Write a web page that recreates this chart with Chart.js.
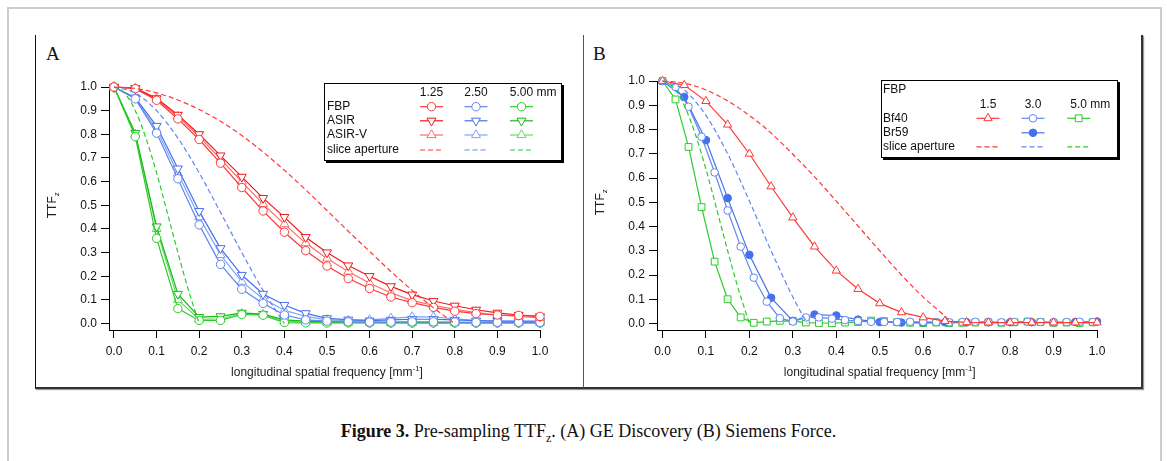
<!DOCTYPE html>
<html lang="en">
<head>
<meta charset="utf-8">
<title>Pre-sampling TTFz</title>
<script src="https://cdn.jsdelivr.net/npm/chart.js"></script>
<style>
    body {
        margin: 0;
        background: #fff;
        width: 1167px;
        height: 461px;
        position: relative;
        overflow: hidden;
        font-family: 'Liberation Sans', Arial, sans-serif;
    }
    .frame {
        position: absolute;
        left: 7px; top: 7px;
        width: 1151px; height: 480px;
        border: 2px solid #cdcdcd;
    }
    .box {
        position: absolute;
        left: 35px; top: 35px;
        width: 1105px; height: 352px;
        border-left: 1px solid #111;
        border-right: 2px solid #333;
        border-bottom: 2px solid #333;
        box-shadow: 1px 1px 1px #999;
    }
    .divider {
        position: absolute;
        left: 583px; top: 35px;
        width: 1px; height: 353px;
        background: #555;
    }
    .letter {
        position: absolute;
        top: 44px;
        font: 19px/19px 'Liberation Serif', serif;
        color: #111;
    }
    canvas { position: absolute; }
    .caption {
        position: absolute;
        left: 35px; width: 1107px; top: 422px;
        text-align: center;
        font: 18px/18px 'Liberation Serif', serif;
        color: #111;
    }
</style>
</head>
<body>
<div class="frame"></div>
<div class="box"></div>
<div class="divider"></div>
<div class="letter" style="left:46px">A</div>
<div class="letter" style="left:593px">B</div>
<canvas id="chartA" width="546" height="352" style="left:36px; top:36px"></canvas>
<canvas id="chartB" width="557" height="352" style="left:584px; top:36px"></canvas>
<div class="caption"><b>Figure 3.</b> Pre-sampling TTF<sub style="font-size:12px">z</sub>. (A) GE Discovery (B) Siemens Force.</div>

<script>
// ---- axis ticks ----
const xTicks = [0, 0.1, 0.2, 0.3, 0.4, 0.5, 0.6, 0.7, 0.8, 0.9, 1.0];
const yTicks = [0, 0.1, 0.2, 0.3, 0.4, 0.5, 0.6, 0.7, 0.8, 0.9, 1.0];

// ---- panel A: GE Discovery ----
const freqA = [0, 0.05, 0.1, 0.15, 0.2, 0.25, 0.3, 0.35, 0.4, 0.45, 0.5, 0.55, 0.6, 0.65, 0.7, 0.75, 0.8, 0.85, 0.9, 0.95, 1.0];
const fbpA125   = [1.0, 0.993, 0.944, 0.865, 0.778, 0.678, 0.575, 0.476, 0.386, 0.308, 0.243, 0.19, 0.148, 0.112, 0.088, 0.068, 0.052, 0.042, 0.036, 0.034, 0.030];
const asirA125  = [1.0, 0.995, 0.952, 0.882, 0.800, 0.710, 0.620, 0.530, 0.450, 0.365, 0.300, 0.245, 0.200, 0.157, 0.122, 0.095, 0.075, 0.058, 0.045, 0.036, 0.030];
const asirvA125 = [1.0, 0.994, 0.948, 0.875, 0.790, 0.695, 0.600, 0.505, 0.420, 0.340, 0.275, 0.220, 0.170, 0.130, 0.097, 0.077, 0.060, 0.046, 0.036, 0.030, 0.024];
const fbpA250   = [1.0, 0.950, 0.805, 0.612, 0.417, 0.250, 0.145, 0.085, 0.036, 0.015, 0.010, 0.007, 0.006, 0.006, 0.007, 0.007, 0.006, 0.005, 0.005, 0.005, 0.005];
const asirA250  = [1.0, 0.955, 0.835, 0.655, 0.475, 0.318, 0.205, 0.125, 0.078, 0.043, 0.022, 0.016, 0.012, 0.015, 0.018, 0.018, 0.015, 0.012, 0.010, 0.010, 0.010];
const asirvA250 = [1.0, 0.952, 0.820, 0.635, 0.450, 0.290, 0.177, 0.105, 0.056, 0.030, 0.015, 0.012, 0.015, 0.022, 0.028, 0.028, 0.020, 0.012, 0.010, 0.008, 0.008];
const fbpA500   = [1.0, 0.790, 0.360, 0.063, 0.013, 0.013, 0.038, 0.035, 0.004, 0.003, 0.002, 0.003, 0.002, 0.002, 0.002, 0.002, 0.002, 0.002, 0.002, 0.002, 0.002];
const asirA500  = [1.0, 0.805, 0.410, 0.125, 0.027, 0.030, 0.045, 0.040, 0.015, 0.010, 0.007, 0.006, 0.006, 0.005, 0.005, 0.004, 0.004, 0.004, 0.004, 0.004, 0.004];
const asirvA500 = [1.0, 0.800, 0.400, 0.100, 0.018, 0.020, 0.042, 0.038, 0.010, 0.006, 0.004, 0.004, 0.004, 0.003, 0.003, 0.003, 0.003, 0.003, 0.003, 0.003, 0.003];
// slice aperture curves
const apFreqA125 = [0, 0.05, 0.1, 0.15, 0.2, 0.25, 0.3, 0.35, 0.4, 0.45, 0.5, 0.55, 0.6, 0.65, 0.7, 0.75, 0.8];
const apA125     = [1.0, 0.994, 0.975, 0.945, 0.905, 0.855, 0.795, 0.725, 0.648, 0.565, 0.478, 0.390, 0.305, 0.220, 0.140, 0.066, 0.0];
const apFreqA250 = [0, 0.05, 0.1, 0.15, 0.2, 0.25, 0.3, 0.35, 0.4];
const apA250     = [1.0, 0.974, 0.900, 0.784, 0.637, 0.470, 0.300, 0.140, 0.0];
const apFreqA500 = [0, 0.025, 0.05, 0.075, 0.1, 0.125, 0.15, 0.175, 0.2];
const apA500     = [1.0, 0.974, 0.900, 0.784, 0.637, 0.470, 0.300, 0.140, 0.0];

// ---- panel B: Siemens Force ----
const freqB05 = [0, 0.05, 0.1, 0.15, 0.2, 0.25, 0.3, 0.35, 0.4, 0.45, 0.5, 0.55, 0.6, 0.65, 0.7, 0.75, 0.8, 0.85, 0.9, 0.95, 1.0];
const freqB03 = [0, 0.03, 0.06, 0.09, 0.12, 0.15, 0.18, 0.21, 0.24, 0.27, 0.3, 0.33, 0.36, 0.39, 0.42, 0.45, 0.48, 0.51, 0.54, 0.57, 0.6, 0.63, 0.66, 0.69, 0.72, 0.75, 0.78, 0.81, 0.84, 0.87, 0.9, 0.93, 0.96, 0.99];
const bf40B15 = [1.0, 0.983, 0.917, 0.820, 0.700, 0.565, 0.437, 0.317, 0.218, 0.142, 0.083, 0.046, 0.025, 0.010, 0.005, 0.004, 0.004, 0.004, 0.004, 0.004, 0.004];
const bf40B30 = [1.0, 0.975, 0.894, 0.770, 0.623, 0.466, 0.317, 0.189, 0.090, 0.022, 0.008, 0.025, 0.025, 0.020, 0.014, 0.010, 0.007, 0.006, 0.006, 0.007, 0.007, 0.006, 0.005, 0.006, 0.007, 0.006, 0.005, 0.006, 0.007, 0.006, 0.005, 0.006, 0.007, 0.006];
const br59B30 = [1.0, 0.934, 0.756, 0.517, 0.283, 0.106, 0.011, 0.037, 0.033, 0.016, 0.006, 0.004, 0.004, 0.005, 0.005, 0.005, 0.005, 0.005, 0.005, 0.006, 0.008];
const bf40B50 = [1.0, 0.924, 0.728, 0.480, 0.255, 0.100, 0.025, 0.003, 0.008, 0.011, 0.010, 0.004, 0.002, 0.001, 0.004, 0.006, 0.012, 0.010, 0.005, 0.003, 0.002, 0.004, 0.002, 0.003, 0.004, 0.005, 0.003, 0.005, 0.008, 0.006, 0.003, 0.004, 0.002, 0.005];
const apFreqB15 = [0, 0.05, 0.1, 0.15, 0.2, 0.25, 0.3, 0.35, 0.4, 0.45, 0.5, 0.55, 0.6, 0.65, 0.667];
const apB15     = [1.0, 0.991, 0.963, 0.918, 0.858, 0.785, 0.698, 0.605, 0.505, 0.402, 0.300, 0.200, 0.109, 0.030, 0.0];
const apFreqB30 = [0, 0.05, 0.1, 0.15, 0.2, 0.25, 0.3, 0.333];
const apB30     = [1.0, 0.963, 0.858, 0.700, 0.505, 0.300, 0.109, 0.0];
const apFreqB50 = [0, 0.025, 0.05, 0.075, 0.1, 0.125, 0.15, 0.175, 0.2];
const apB50     = [1.0, 0.974, 0.900, 0.784, 0.637, 0.470, 0.300, 0.140, 0.0];

// colours
const RED = 'rgb(255,55,55)', RED_D = 'rgb(240,25,25)', RED_L = 'rgb(255,105,105)';
const BLUE = 'rgb(95,135,242)', BLUE_D = 'rgb(70,112,236)', BLUE_L = 'rgb(128,162,248)';
const GREEN = 'rgb(40,205,40)', GREEN_D = 'rgb(25,185,25)', GREEN_L = 'rgb(100,220,100)';
const FONT = "'Liberation Sans', Arial, sans-serif";

const pts = (xs, ys) => xs.map((x, i) => ({ x: x, y: ys[i] }));

function marks(xs, ys, color, style, r, extra) {
    return Object.assign({
        data: pts(xs, ys),
        borderColor: color,
        borderWidth: 1.2,
        pointStyle: style,
        pointRadius: r,
        pointBorderWidth: 1,
        pointBorderColor: color,
        pointBackgroundColor: '#fff',
        clip: false,
        tension: 0
    }, extra || {});
}

function dashed(xs, ys, color) {
    return {
        data: pts(xs, ys),
        borderColor: color,
        borderWidth: 1.2,
        borderDash: [5, 3],
        pointRadius: 0,
        cubicInterpolationMode: 'monotone',
        clip: false
    };
}

// legend symbol, same geometry as the chart's point styles
function drawMarker(ctx, style, x, y, r, rot) {
    ctx.beginPath();
    if (style === 'circle') {
        ctx.arc(x, y, r, 0, Math.PI * 2);
    } else if (style === 'triangle') {
        let a = (rot || 0) * Math.PI / 180;
        ctx.moveTo(x + Math.sin(a) * r, y - Math.cos(a) * r);
        for (let k = 0; k < 2; k++) {
            a += Math.PI * 2 / 3;
            ctx.lineTo(x + Math.sin(a) * r, y - Math.cos(a) * r);
        }
    } else if (style === 'rect') {
        const s = r * Math.SQRT1_2;
        ctx.rect(x - s, y - s, 2 * s, 2 * s);
    }
    ctx.closePath();
    ctx.fill();
    ctx.stroke();
}

// legend layouts, looked up by canvas id (kept out of the chart options)
const legendSpecs = {};

// draws axis titles (with sub/superscripts) and the boxed legend
const X_TITLE_Y = 340, Y_TITLE_X = 20;
const decor = {
    id: 'decor',
    afterDraw(chart) {
        const ctx = chart.ctx, xs = chart.scales.x, ys = chart.scales.y;
        ctx.save();
        ctx.fillStyle = '#222';
        ctx.textBaseline = 'alphabetic';

        // x title: longitudinal spatial frequency [mm^-1]
        const main = 'longitudinal spatial frequency [mm', sup = '-1', end = ']';
        ctx.font = '12px ' + FONT;
        const w1 = ctx.measureText(main).width, w3 = ctx.measureText(end).width;
        ctx.font = '8px ' + FONT;
        const w2 = ctx.measureText(sup).width;
        const cx = (xs.getPixelForValue(0) + xs.getPixelForValue(1)) / 2;
        const sx = cx - (w1 + w2 + w3) / 2;
        ctx.textAlign = 'left';
        ctx.font = '12px ' + FONT;
        ctx.fillText(main, sx, X_TITLE_Y);
        ctx.font = '8px ' + FONT;
        ctx.fillText(sup, sx + w1, X_TITLE_Y - 5);
        ctx.font = '12px ' + FONT;
        ctx.fillText(end, sx + w1 + w2, X_TITLE_Y);

        // y title: TTF_z
        const cy = (ys.getPixelForValue(0) + ys.getPixelForValue(1)) / 2;
        ctx.translate(Y_TITLE_X, cy);
        ctx.rotate(-Math.PI / 2);
        ctx.font = '12px ' + FONT;
        const t1 = ctx.measureText('TTF').width;
        ctx.font = '8px ' + FONT;
        const t2 = ctx.measureText('z').width;
        ctx.font = '12px ' + FONT;
        ctx.fillText('TTF', -(t1 + t2) / 2, 0);
        ctx.font = '8px ' + FONT;
        ctx.fillText('z', -(t1 + t2) / 2 + t1, 3);
        ctx.restore();

        drawLegend(ctx, legendSpecs[chart.canvas.id]);
    }
};

function drawLegend(ctx, L) {
    const b = L.box, w = b.right - b.left, h = b.bottom - b.top;
    ctx.save();
    ctx.fillStyle = '#000';
    ctx.fillRect(b.left + 2, b.top + 2, w, h);
    ctx.fillStyle = '#fff';
    ctx.fillRect(b.left, b.top, w, h);
    ctx.strokeStyle = '#000';
    ctx.lineWidth = 1;
    ctx.strokeRect(b.left + 0.5, b.top + 0.5, w - 1, h - 1);

    ctx.font = '12px ' + FONT;
    ctx.textBaseline = 'middle';
    // column headers
    L.heads.labels.forEach((t, i) => {
        ctx.fillStyle = '#111';
        ctx.textAlign = 'center';
        ctx.fillText(t, L.cols[i], L.heads.y);
        if (i === L.heads.labels.length - 1) {
            ctx.textAlign = 'left';
            ctx.fillText(L.heads.unit, L.cols[i] + ctx.measureText(t).width / 2, L.heads.y);
        }
    });
    L.rows.forEach(row => {
        ctx.textAlign = 'left';
        ctx.fillStyle = '#111';
        ctx.fillText(row.label, L.textX, row.y);
        (row.marks || []).forEach((m, i) => {
            if (!m) return;
            const c = L.cols[i];
            ctx.strokeStyle = m.c;
            ctx.lineWidth = 1.2;
            ctx.setLineDash(m.dash ? [5, 3] : []);
            ctx.beginPath();
            ctx.moveTo(c - 11.5, row.y);
            ctx.lineTo(c + 11.5, row.y);
            ctx.stroke();
            ctx.setLineDash([]);
            if (m.s) {
                ctx.fillStyle = m.solid ? m.c : '#ffffff';
                ctx.lineWidth = 1;
                drawMarker(ctx, m.s, c, row.y, m.r, m.rot);
            }
        });
    });
    ctx.restore();
}

function makeOptions(xMin, yMin, padTop, padRight) {
    const tickFont = { family: FONT, size: 12 };
    const axis = (min, ticks, fit, pad) => ({
        type: 'linear',
        min: min,
        max: 1.0,
        afterBuildTicks: s => { s.ticks = ticks.map(v => ({ value: v })); },
        afterFit: fit,
        border: { display: true, color: '#000', width: 1 },
        grid: { drawOnChartArea: false, drawTicks: true, tickLength: 8, color: '#000', lineWidth: 1 },
        ticks: { color: '#111', font: tickFont, padding: pad, maxRotation: 0, autoSkip: false, callback: v => v.toFixed(1) }
    });
    return {
        responsive: false,
        animation: false,
        events: [],
        layout: { padding: { top: padTop, right: padRight, bottom: 0, left: 0 } },
        plugins: { legend: { display: false }, tooltip: { enabled: false } },
        scales: {
            x: axis(xMin, xTicks, s => { s.height = 58; }, 6),
            y: axis(yMin, yTicks, s => { s.width = 73; }, 4)
        }
    };
}

// ---- panel A ----
legendSpecs.chartA = {
    box: { left: 288, top: 47, right: 526, bottom: 125 },
    textX: 291,
    cols: [395.5, 440, 485.5],
    heads: { y: 56.5, labels: ['1.25', '2.50', '5.00'], unit: ' mm' },
    rows: [
        { label: 'FBP', y: 70.7, marks: [{ c: RED, s: 'circle', r: 4.2 }, { c: BLUE, s: 'circle', r: 4.2 }, { c: GREEN, s: 'circle', r: 4.2 }] },
        { label: 'ASIR', y: 84.8, marks: [{ c: RED_D, s: 'triangle', rot: 180, r: 5.2 }, { c: BLUE_D, s: 'triangle', rot: 180, r: 5.2 }, { c: GREEN_D, s: 'triangle', rot: 180, r: 5.2 }] },
        { label: 'ASIR-V', y: 99, marks: [{ c: RED_L, s: 'triangle', r: 5.2 }, { c: BLUE_L, s: 'triangle', r: 5.2 }, { c: GREEN_L, s: 'triangle', r: 5.2 }] },
        { label: 'slice aperture', y: 114, marks: [{ c: RED, dash: true }, { c: BLUE, dash: true }, { c: GREEN, dash: true }] }
    ]
};

new Chart(document.getElementById('chartA'), {
    type: 'line',
    data: {
        datasets: [
            dashed(apFreqA125, apA125, RED),
            dashed(apFreqA250, apA250, BLUE),
            dashed(apFreqA500, apA500, GREEN),
            marks(freqA, fbpA125, RED, 'circle', 4.2),
            marks(freqA, asirA125, RED_D, 'triangle', 5.2, { pointRotation: 180 }),
            marks(freqA, asirvA125, RED_L, 'triangle', 5.2),
            marks(freqA, fbpA250, BLUE, 'circle', 4.2),
            marks(freqA, asirA250, BLUE_D, 'triangle', 5.2, { pointRotation: 180 }),
            marks(freqA, asirvA250, BLUE_L, 'triangle', 5.2),
            marks(freqA, fbpA500, GREEN, 'circle', 4.2),
            marks(freqA, asirA500, GREEN_D, 'triangle', 5.2, { pointRotation: 180 }),
            marks(freqA, asirvA500, GREEN_L, 'triangle', 5.2)
        ]
    },
    options: makeOptions(-0.0117, -0.0275, 51, 42),
    plugins: [decor]
});

// ---- panel B ----
legendSpecs.chartB = {
    box: { left: 297, top: 44, right: 534, bottom: 122 },
    textX: 299,
    cols: [404, 449, 494.7],
    heads: { y: 69, labels: ['1.5', '3.0', '5.0'], unit: ' mm' },
    rows: [
        { label: 'FBP', y: 54 },
        { label: 'Bf40', y: 82.3, marks: [{ c: RED, s: 'triangle', r: 4.8 }, { c: BLUE, s: 'circle', r: 3.8 }, { c: GREEN, s: 'rect', r: 4.8 }] },
        { label: 'Br59', y: 96.8, marks: [null, { c: BLUE_D, s: 'circle', r: 3.8, solid: true }, null] },
        { label: 'slice aperture', y: 110.8, marks: [{ c: RED, dash: true }, { c: BLUE, dash: true }, { c: GREEN, dash: true }] }
    ]
};

new Chart(document.getElementById('chartB'), {
    type: 'line',
    data: {
        datasets: [
            dashed(apFreqB15, apB15, RED),
            dashed(apFreqB30, apB30, BLUE),
            dashed(apFreqB50, apB50, GREEN),
            marks(freqB05, bf40B15, RED, 'triangle', 4.8),
            marks(freqB03, bf40B30, BLUE, 'circle', 3.8),
            marks(freqB05, br59B30, BLUE_D, 'circle', 3.8, { pointBackgroundColor: BLUE_D }),
            marks(freqB03, bf40B50, GREEN, 'rect', 4.8)
        ]
    },
    options: makeOptions(-0.0126, -0.0268, 45, 44),
    plugins: [decor]
});
</script>
</body>
</html>
